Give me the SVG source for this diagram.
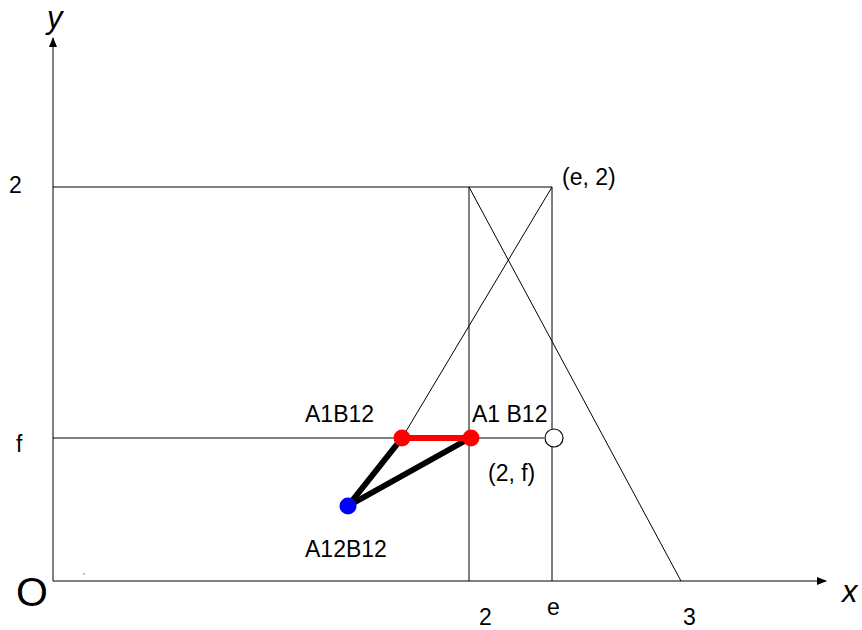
<svg xmlns="http://www.w3.org/2000/svg" width="862" height="630" viewBox="0 0 862 630">
<style>
.t{font-family:"Liberation Sans",Arial,sans-serif;font-size:23px;fill:#000}
.big{font-size:31px;font-style:italic}
.thin{stroke:#000;stroke-width:1;fill:none}
.thick{stroke:#000;stroke-width:6;stroke-linecap:round}
</style>
<defs>
<marker id="ah" markerWidth="10" markerHeight="8" refX="9" refY="4" orient="auto" markerUnits="userSpaceOnUse">
<path d="M0,0 L10,4 L0,8 Z" fill="#000"/>
</marker>
</defs>
<rect width="862" height="630" fill="#fff"/>
<g id="axes">
<line class="thin" x1="53" y1="581" x2="53" y2="38" marker-end="url(#ah)"/>
<line class="thin" x1="53" y1="581" x2="826" y2="581" marker-end="url(#ah)"/>
</g>
<g id="connectors">
<line class="thin" x1="53" y1="187" x2="552" y2="187"/>
<line class="thin" x1="469" y1="187" x2="469" y2="581"/>
<line class="thin" x1="552" y1="187" x2="552" y2="581"/>
<line class="thin" x1="53" y1="438" x2="544" y2="438"/>
<line class="thin" x1="552" y1="187" x2="402" y2="438"/>
<line class="thin" x1="469" y1="187" x2="681" y2="581"/>
<line class="thick" x1="348" y1="506" x2="402" y2="438"/>
<line class="thick" x1="348" y1="506" x2="470" y2="438"/>
<line x1="402" y1="438" x2="470" y2="438" stroke="#f00" stroke-width="6"/>
</g>
<g id="p_a1b12"><circle cx="402" cy="438" r="8.5" fill="#f00"/></g>
<g id="p_a1_b12"><circle cx="471" cy="438" r="8.5" fill="#f00"/></g>
<g id="p_a12b12"><circle cx="348" cy="506" r="8.5" fill="#00f"/></g>
<g id="p_2f"><circle cx="554" cy="438" r="9" fill="#fff" stroke="#000" stroke-width="1.2"/></g>
<circle cx="84" cy="574" r="0.7" fill="#555"/>
<g id="labels">
<text class="t big" x="47" y="28">y</text>
<text class="t big" x="842" y="602">x</text>
<text class="t" x="16" y="606" style="font-size:41px">O</text>
<text class="t" x="9" y="193">2</text>
<text class="t" x="16" y="452">f</text>
<text class="t" x="562" y="185">(e, 2)</text>
<text class="t" x="305" y="422">A1B12</text>
<text class="t" x="472" y="422">A1 B12</text>
<text class="t" x="488" y="481">(2, f)</text>
<text class="t" x="305" y="557">A12B12</text>
<text class="t" x="479" y="625">2</text>
<text class="t" x="547" y="615">e</text>
<text class="t" x="683" y="625">3</text>
</g>
</svg>
